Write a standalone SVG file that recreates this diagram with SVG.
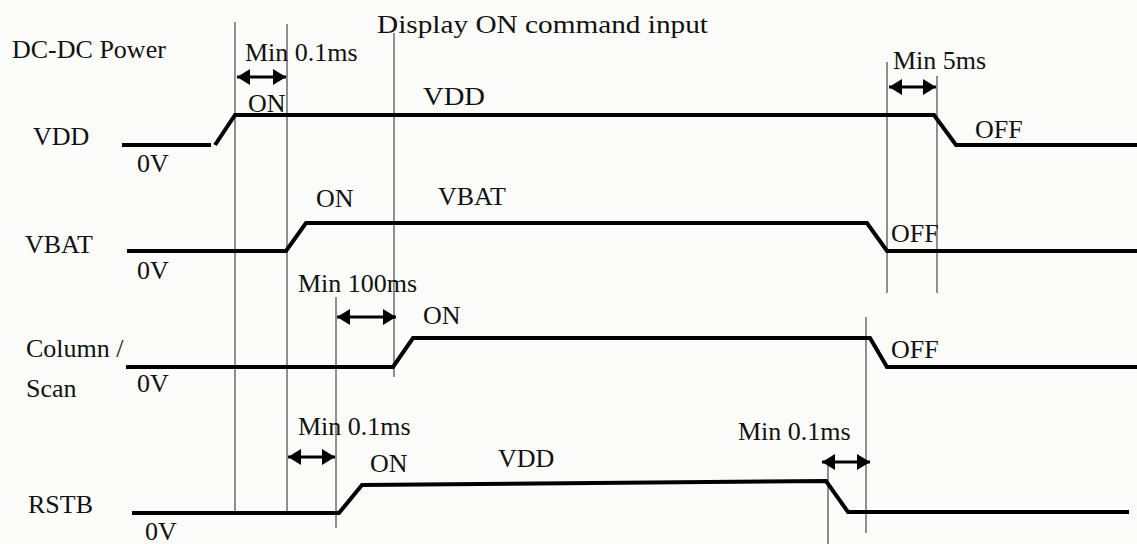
<svg xmlns="http://www.w3.org/2000/svg" width="1137" height="544" viewBox="0 0 1137 544">
<style>
text{font-family:"Liberation Serif","Times New Roman",serif;font-size:26px;fill:#111}
.g{stroke:#555;stroke-width:1.3;fill:none}
.w{stroke:#000;stroke-width:4;fill:none;stroke-linejoin:miter}
.a{stroke:#000;stroke-width:3;fill:none;marker-start:url(#h);marker-end:url(#h)}
</style>
<defs>
<marker id="h" viewBox="0 0 13 16" refX="13" refY="8" markerWidth="13" markerHeight="16" markerUnits="userSpaceOnUse" orient="auto-start-reverse">
<path d="M0,0 L13,8 L0,16 Z" fill="#000"/>
</marker>
</defs>
<rect width="1137" height="544" fill="#fcfdfb"/>
<g id="guides">
<line class="g" x1="235" y1="22" x2="235" y2="513"/>
<line class="g" x1="287" y1="24" x2="287" y2="513"/>
<line class="g" x1="394" y1="33" x2="394" y2="377"/>
<line class="g" x1="336" y1="297" x2="336" y2="528"/>
<line class="g" x1="887" y1="62" x2="887" y2="293"/>
<line class="g" x1="937" y1="76" x2="937" y2="293"/>
<line class="g" x1="866" y1="317" x2="866" y2="533"/>
<line class="g" x1="828" y1="462" x2="828" y2="544"/>
</g>
<g id="vdd">
<text x="33" y="145">VDD</text>
<text x="137" y="172">0V</text>
<polyline class="w" points="122,145 211,145"/>
<polyline class="w" points="215,145 235,115 934,115 956,145 1137,145"/>
<text x="248" y="112">ON</text>
<text x="423" y="105" textLength="62" lengthAdjust="spacingAndGlyphs">VDD</text>
<text x="975" y="138">OFF</text>
</g>
<g id="vbat">
<text x="25" y="253">VBAT</text>
<text x="137" y="279">0V</text>
<polyline class="w" points="127,251 286,251 306,223 867,223 887,251 1137,251"/>
<text x="316" y="207">ON</text>
<text x="438" y="205">VBAT</text>
<text x="891" y="242">OFF</text>
</g>
<g id="column">
<text x="26" y="357">Column /</text>
<text x="26" y="397">Scan</text>
<text x="137" y="392">0V</text>
<polyline class="w" points="126,367 393,367 413,338 870,338 887,367 1137,367"/>
<text x="423" y="324">ON</text>
<text x="891" y="358">OFF</text>
</g>
<g id="rstb">
<text x="28" y="513">RSTB</text>
<text x="145" y="540">0V</text>
<polyline class="w" points="132,513 339,513 362,485 826,481 848,512 1129,512"/>
<text x="370" y="472">ON</text>
<text x="498" y="467">VDD</text>
</g>
<g id="labels">
<text x="12" y="58">DC-DC Power</text>
<text x="377" y="33" textLength="331" lengthAdjust="spacingAndGlyphs">Display ON command input</text>
<text x="245" y="61">Min 0.1ms</text>
<text x="893" y="69">Min 5ms</text>
<text x="298" y="292">Min 100ms</text>
<text x="298" y="435">Min 0.1ms</text>
<text x="738" y="440">Min 0.1ms</text>
</g>
<g id="connectors">
<line class="a" x1="237" y1="77" x2="286" y2="77"/>
<line class="a" x1="889" y1="87" x2="936" y2="87"/>
<line class="a" x1="337" y1="317" x2="396" y2="317"/>
<line class="a" x1="288" y1="457" x2="335" y2="457"/>
<line class="a" x1="822" y1="462" x2="870" y2="462"/>
</g>
</svg>
